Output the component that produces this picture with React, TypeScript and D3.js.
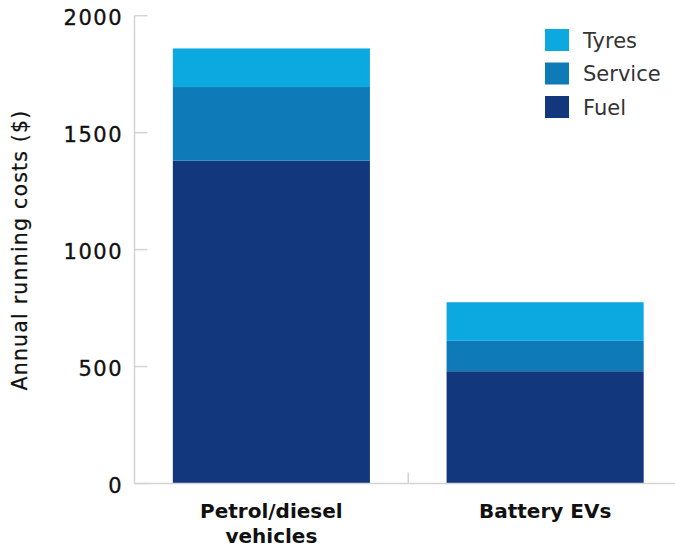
import React from "react";
import * as d3 from "d3";

const categories = ["Petrol/diesel vehicles", "Battery EVs"];
const categoryLines = [["Petrol/diesel", "vehicles"], ["Battery EVs"]];
const seriesNames = ["Fuel", "Service", "Tyres"];
const fuel = [1380, 480];
const service = [315, 130];
const tyres = [165, 165];
const yTicks = [0, 500, 1000, 1500, 2000];
const colors = ["#13377c", "#0e7ab8", "#0ca9e1"];
const legendOrder = ["Tyres", "Service", "Fuel"];

export default function App() {
  const W = 675, H = 547;
  const y = d3.scaleLinear().domain([0, 2000]).range([483.5, 15.7]);
  const x = d3.scaleBand<string>().domain(categories).range([134.5, 682]).paddingInner(0.28).paddingOuter(0.14);
  const rows = categories.map((c, i) => ({ cat: c, Fuel: fuel[i], Service: service[i], Tyres: tyres[i] }));
  const stack = d3.stack<any>().keys(seriesNames)(rows);
  const color = d3.scaleOrdinal<string, string>().domain(seriesNames).range(colors);
  const font = "'DejaVu Sans', sans-serif";
  const step = x.step();
  const x0 = x.range()[0];

  return (
    <svg width={W} height={H} style={{ position: "absolute", left: 0, top: 0, background: "#fff" }} fontFamily={font}>
      {yTicks.map((t) => (
        <g key={t}>
          <line x1={x0} x2={x0 + 13} y1={y(t)} y2={y(t)} stroke="#d4d4d4" strokeWidth={1.5} />
          <text x={123} y={y(t) + 2} dy="0.36em" textAnchor="end" fontSize={21} letterSpacing={1.5} fill="#111" stroke="#111" strokeWidth={0.35}>{t}</text>
        </g>
      ))}
      {stack.map((s) => (
        <g key={s.key} fill={color(s.key)}>
          {s.map((d, i) => (
            <rect key={i} x={x(categories[i])} width={x.bandwidth()} y={y(d[1])} height={y(d[0]) - y(d[1])} />
          ))}
        </g>
      ))}
      <line x1={x0} x2={x0} y1={y(2000)} y2={y(0)} stroke="#d4d4d4" strokeWidth={1.5} />
      <line x1={x0} x2={W} y1={y(0)} y2={y(0)} stroke="#d4d4d4" strokeWidth={1.5} />
      {categories.slice(1).map((c, i) => (
        <line key={c} x1={x0 + step * (i + 1)} x2={x0 + step * (i + 1)} y1={y(0)} y2={y(0) - 11} stroke="#d4d4d4" strokeWidth={1.5} />
      ))}
      {categories.map((c, i) => (
        <text key={c} x={(x(c) as number) + x.bandwidth() / 2} y={518} textAnchor="middle" fontSize={20} fontWeight="bold" fill="#111">
          {categoryLines[i].map((l, j) => (
            <tspan key={j} x={(x(c) as number) + x.bandwidth() / 2} dy={j === 0 ? 0 : 25}>{l}</tspan>
          ))}
        </text>
      ))}
      <text transform={`translate(27,250) rotate(-90)`} textAnchor="middle" fontSize={20.5} letterSpacing={1.2} fill="#111" stroke="#111" strokeWidth={0.25}>
        Annual running costs ($)
      </text>
      {legendOrder.map((k, i) => (
        <g key={k} transform={`translate(545,${40 + i * 33.5})`}>
          <rect x={0} y={-11} width={24} height={22} fill={color(k)} />
          <text x={38} y={0} dy="0.36em" fontSize={21} fill="#333">{k}</text>
        </g>
      ))}
    </svg>
  );
}
